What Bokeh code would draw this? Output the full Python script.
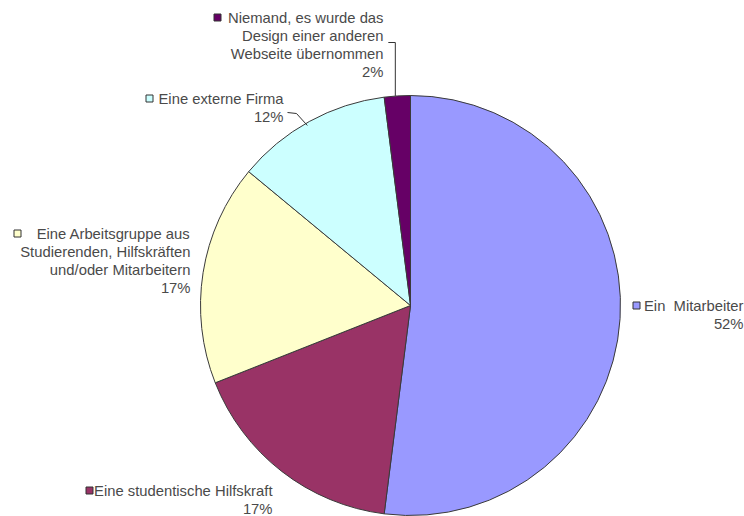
import math
from bokeh.plotting import figure
from bokeh.models import Range1d, ColumnDataSource
from bokeh.embed import file_html
from bokeh.resources import INLINE
from bokeh.core.properties import value

# ---- data ----
categories = [
    "Ein  Mitarbeiter",
    "Eine studentische Hilfskraft",
    "Eine Arbeitsgruppe aus Studierenden, Hilfskräften und/oder Mitarbeitern",
    "Eine externe Firma",
    "Niemand, es wurde das Design einer anderen Webseite übernommen",
]
percents = [52, 17, 17, 12, 2]
pct_labels = ["52%", "17%", "17%", "12%", "2%"]

# ---- styles / layout ----
colors = ["#9999FF", "#993366", "#FFFFCC", "#CCFFFF", "#660066"]
label_lines = [
    ["Ein\u00a0\u00a0Mitarbeiter", "52%"],
    ["Eine studentische Hilfskraft", "17%"],
    ["Eine Arbeitsgruppe aus", "Studierenden, Hilfskräften", "und/oder Mitarbeitern", "17%"],
    ["Eine externe Firma", "12%"],
    ["Niemand, es wurde das", "Design einer anderen", "Webseite übernommen", "2%"],
]
# (right edge x, first line y) in pixels (top-left origin)
label_anchor = [(743, 305), (272, 490), (190, 233), (283, 98), (383, 17)]
key_x = [636, 89, 17, 149, 217]
line_h = 18.3

W, H = 744, 516
cx, cy, R = 410, 305, 210  # pixel coords

def Y(ypx):
    return H - ypx

p = figure(width=W, height=H, output_backend="svg", toolbar_location=None,
           x_range=Range1d(0, W), y_range=Range1d(0, H), min_border=0)
p.axis.visible = False
p.grid.visible = False
p.outline_line_color = None
p.background_fill_color = "white"

total = float(sum(percents))
starts, ends, mids = [], [], []
cum = 0.0
for v in percents:
    a0 = math.pi / 2 - 2 * math.pi * cum / total
    cum += v
    a1 = math.pi / 2 - 2 * math.pi * cum / total
    starts.append(a0)
    ends.append(a1)
    mids.append((a0 + a1) / 2)

src = ColumnDataSource(dict(start=starts, end=ends, color=colors))
p.wedge(x=cx, y=Y(cy), radius=R, start_angle="start", end_angle="end",
        direction="clock", fill_color="color", line_color="#3a3a3a",
        line_width=1, source=src)

# labels
tx, ty, tt = [], [], []
for lines, (ax, ay) in zip(label_lines, label_anchor):
    for i, ln in enumerate(lines):
        tx.append(ax)
        ty.append(Y(ay + i * line_h))
        tt.append(ln)
p.text(x=tx, y=ty, text=tt, text_align="right", text_baseline="middle",
       text_font=value("Liberation Sans"), text_font_size="14.8px",
       text_color="#4a4a4a")

# legend keys
p.scatter(x=key_x, y=[Y(a[1]) for a in label_anchor], marker="square", size=7,
          fill_color=colors, line_color="#333333", line_width=1)

# leader lines
# Niemand (index 4)
ex = cx + R * math.cos(mids[4])
ey = cy - R * math.sin(mids[4])
p.line(x=[ex - 2, ex - 2, ex - 9], y=[Y(ey), Y(42), Y(42)],
       line_color="#333333", line_width=1)
# externe Firma (index 3)
ex = cx + R * math.cos(mids[3])
ey = cy - R * math.sin(mids[3])
p.line(x=[287, 296, ex - 2], y=[Y(112), Y(113), Y(ey + 4)],
       line_color="#333333", line_width=1)

open("out.html", "w").write(file_html(p, INLINE))
